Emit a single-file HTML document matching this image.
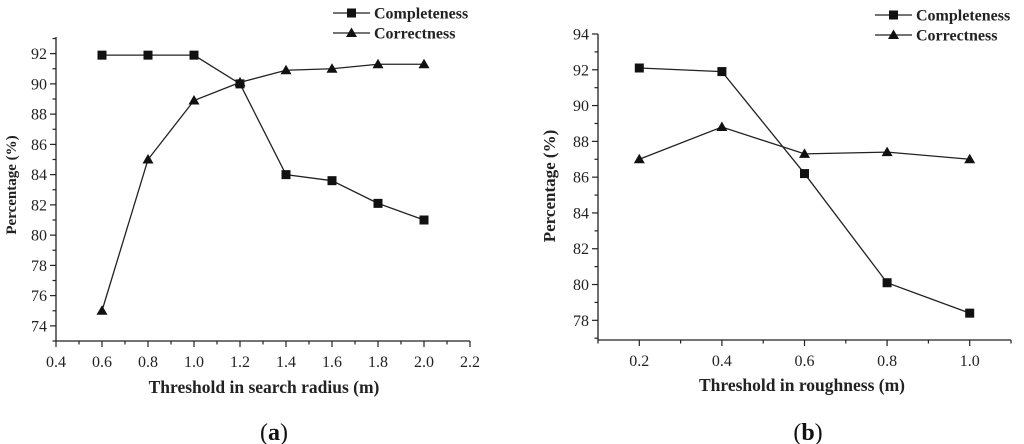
<!DOCTYPE html>
<html><head><meta charset="utf-8"><style>
html,body{margin:0;padding:0;background:#fff;}
svg{display:block;font-family:"Liberation Serif",serif;}
</style></head><body>
<svg id="s" width="1024" height="444" viewBox="0 0 1024 444"></svg>
<script>
const xA=[0.6,0.8,1.0,1.2,1.4,1.6,1.8,2.0];
const compA=[91.9,91.9,91.9,90.0,84.0,83.6,82.1,81.0];
const corrA=[75.0,85.0,88.9,90.1,90.9,91.0,91.3,91.3];
const xTicksA=[0.4,0.6,0.8,1.0,1.2,1.4,1.6,1.8,2.0,2.2];
const yTicksA=[74,76,78,80,82,84,86,88,90,92];
const xB=[0.2,0.4,0.6,0.8,1.0];
const compB=[92.1,91.9,86.2,80.1,78.4];
const corrB=[87.0,88.8,87.3,87.4,87.0];
const xTicksB=[0.2,0.4,0.6,0.8,1.0];
const yTicksB=[78,80,82,84,86,88,90,92,94];

const NS="http://www.w3.org/2000/svg";
const svg=document.getElementById('s');
function el(t,a,p){const e=document.createElementNS(NS,t);for(const k in a)e.setAttribute(k,a[k]);(p||svg).appendChild(e);return e;}

function chart(o){
  const g=el('g',{});
  
  
  const sx=v=>o.L+(v-o.x0)/(o.x1-o.x0)*(o.R-o.L);
  const sy=v=>o.B-(v-o.y0)/(o.y1-o.y0)*(o.B-o.T);
  const ax=el('path',{d:`M${o.L},${o.T}V${o.B}H${o.R}`,fill:'none',stroke:'#222','stroke-width':1.3},g);
  
  
  for(let v=o.x0;v<=o.x1+1e-9;v+=o.xminor){
    const major=o.xt.some(t=>Math.abs(t-v)<1e-6);
    el('line',{x1:sx(v),x2:sx(v),y1:o.B,y2:o.B+(major?6:3.5),stroke:'#222','stroke-width':1.2},g);
  }
  o.xt.forEach(v=>{const t=el('text',{x:sx(v),y:o.B+26,'text-anchor':'middle','font-size':16,fill:'#222'},g);t.textContent=v.toFixed(1);
    
    });
  for(let v=Math.ceil(o.y0);v<=o.y1+1e-9;v+=1){
    const major=o.yt.includes(v);
    el('line',{x1:o.L,x2:o.L-(major?6:3.5),y1:sy(v),y2:sy(v),stroke:'#222','stroke-width':1.2},g);
  }
  o.yt.forEach(v=>{const t=el('text',{x:o.L-9,y:sy(v)+5.5,'text-anchor':'end','font-size':16,fill:'#222'},g);t.textContent=v;
    
    });
  const xt=el('text',{x:o.xtx,y:o.xty,'text-anchor':'middle','font-size':17.5,'font-weight':'bold',fill:'#222'},g);xt.textContent=o.xtitle;
  
  
  const yt=el('text',{x:0,y:0,transform:`translate(${o.ytx},${o.yty}) rotate(-90)`,'text-anchor':'middle','font-size':o.ytfs,'font-weight':'bold',fill:'#222'},g);yt.textContent='Percentage (%)';
  
  
  const lb=el('text',{x:o.labx,y:440,'text-anchor':'middle','font-size':24,fill:'#111'},g);
  lb.innerHTML='(<tspan font-weight="bold">'+o.lab+'</tspan>)';
  
  
  function series(xs,ys,mk,nm){
    const p=el('polyline',{points:xs.map((x,i)=>sx(x)+','+sy(ys[i])).join(' '),fill:'none',stroke:'#222','stroke-width':1.3},g);
    
    
    xs.forEach((x,i)=>marker(sx(x),sy(ys[i]),mk,g,nm));
  }
  series(o.xs,o.comp,'sq','completeness');
  series(o.xs,o.corr,'tri','correctness');
  [['Completeness','sq',o.legy],['Correctness','tri',o.legy+20]].forEach(([n,m,y])=>{
    const lg=el('g',{},g);
    
    
    el('line',{x1:o.legx,x2:o.legx+37,y1:y,y2:y,stroke:'#222','stroke-width':1.3},lg);
    marker(o.legx+18.5,y,m,lg,'legend');
    const t=el('text',{x:o.legx+41,y:y+5.5,'font-size':16,'font-weight':'bold',fill:'#222'},lg);t.textContent=n;
  });
}
function marker(x,y,m,p,nm){
  let e;
  if(m==='sq')e=el('rect',{x:x-4.5,y:y-4.5,width:9,height:9,fill:'#111'},p);
  else e=el('path',{d:`M${x},${y-5.5}L${x+5.5},${y+4}L${x-5.5},${y+4}Z`,fill:'#111'},p);
  
  
}
chart({name:'chart-a',L:56,R:470,T:37,B:341,x0:0.4,x1:2.2,y0:73,y1:93.1,xminor:0.1,xt:xTicksA,yt:yTicksA,
  xs:xA,comp:compA,corr:corrA,xtitle:'Threshold in search radius (m)',xtx:264,xty:393,ytx:16,yty:185,ytfs:15,lab:'a',labx:274,legx:333,legy:13});
chart({name:'chart-b',L:598,R:1011,T:34,B:340,x0:0.1,x1:1.1,y0:76.9,y1:94,xminor:0.1,xt:xTicksB,yt:yTicksB,
  xs:xB,comp:compB,corr:corrB,xtitle:'Threshold in roughness (m)',xtx:802,xty:391,ytx:555,yty:186,ytfs:17,lab:'b',labx:808,legx:875,legy:15});
</script>
</body></html>
